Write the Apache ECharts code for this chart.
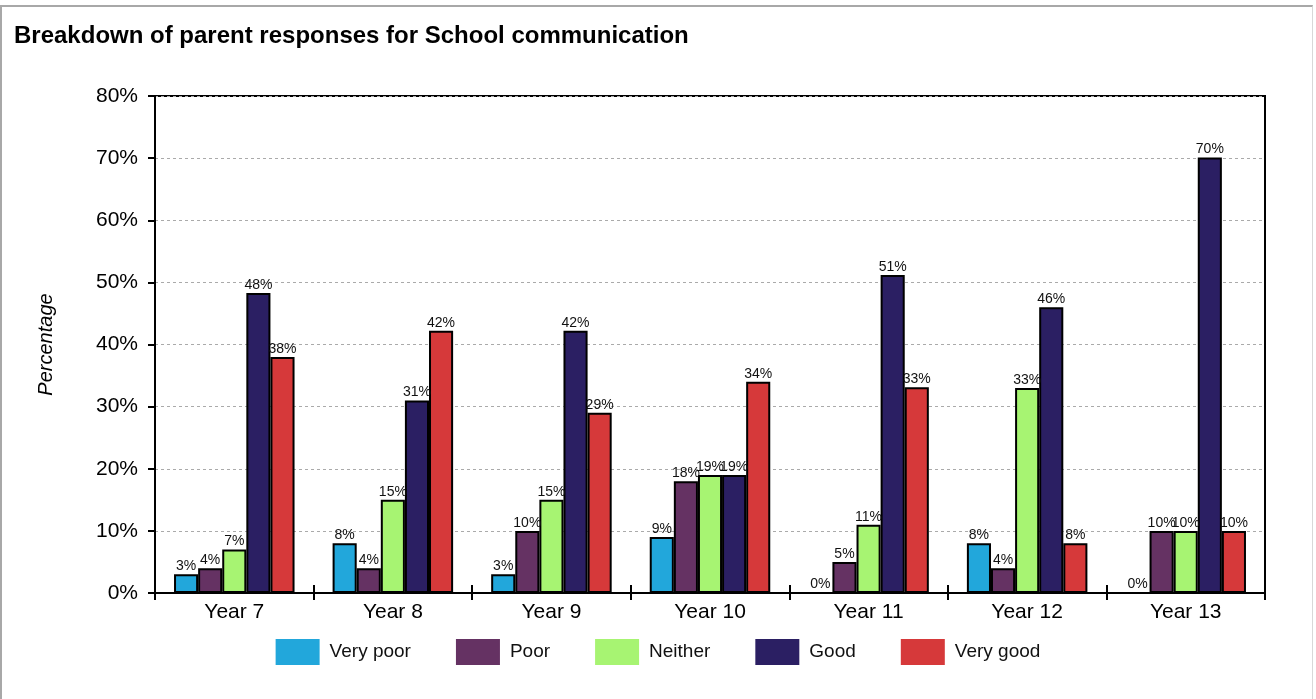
<!DOCTYPE html>
<html>
<head>
<meta charset="utf-8">
<script src="https://cdn.jsdelivr.net/npm/echarts@6/dist/echarts.min.js"></script>
<style>
  html, body { margin: 0; padding: 0; background: #fff; }
  #frame { position: absolute; left: 0; top: 5px; width: 1313px; height: 700px;
           border-top: 2px solid #a8a8a8; border-left: 2px solid #a8a8a8; border-right: 1px solid #d8d8d8; box-sizing: border-box; }
  #chart { position: absolute; left: 0; top: 0; width: 1316px; height: 699px; }
</style>
</head>
<body>
<div id="frame"></div>
<div id="chart"></div>
<script>
const categories = ['Year 7', 'Year 8', 'Year 9', 'Year 10', 'Year 11', 'Year 12', 'Year 13'];
const veryPoor = [3, 8, 3, 9, 0, 8, 0];
const poor = [4, 4, 10, 18, 5, 4, 10];
const neither = [7, 15, 15, 19, 11, 33, 10];
const good = [48.3, 31, 42.2, 19, 51.2, 46, 70.1];
const veryGood = [38, 42.2, 29, 34, 33.1, 8, 10];
const yTicks = [0, 10, 20, 30, 40, 50, 60, 70, 80];

const seriesNames = ['Very poor', 'Poor', 'Neither', 'Good', 'Very good'];
const seriesData = [veryPoor, poor, neither, good, veryGood];
const colors = ['#22A7DB', '#653263', '#A7F472', '#2B1F63', '#D6393A'];

const chart = echarts.init(document.getElementById('chart'));
const fontFamily = 'Liberation Sans, Arial, sans-serif';

const option = {
  animation: false,
  textStyle: { fontFamily },
  title: {
    text: 'Breakdown of parent responses for School communication',
    left: 9, top: 19,
    textStyle: { fontSize: 24, fontWeight: 'bold', color: '#000', fontFamily }
  },
  legend: {
    bottom: 29, left: 'center',
    itemWidth: 44, itemHeight: 26, itemGap: 45,
    icon: 'rect',
    itemStyle: { borderWidth: 0 },
    textStyle: { fontSize: 19, color: '#111', padding: [0, 0, 0, 5], fontFamily },
    data: seriesNames
  },
  grid: {
    left: 155, right: 51, top: 96, bottom: 106,
    show: true, borderColor: '#000', borderWidth: 2, backgroundColor: 'transparent'
  },
  xAxis: [{
    type: 'category', data: categories,
    axisLine: { lineStyle: { color: '#000', width: 2 } },
    axisTick: { show: true, length: 7, lineStyle: { color: '#000', width: 2 } },
    axisLabel: { fontSize: 21, color: '#000', margin: 9, fontFamily }
  }, {
    type: 'category', data: categories, position: 'bottom',
    axisLine: { show: false },
    axisTick: { show: true, inside: true, length: 8, lineStyle: { color: '#000', width: 2 } },
    axisLabel: { show: false }
  }],
  yAxis: {
    type: 'value', min: 0, max: 80, interval: 10,
    name: 'Percentage', nameLocation: 'middle', nameGap: 99, nameRotate: 90,
    nameTextStyle: { fontSize: 20, fontStyle: 'italic', color: '#000', fontFamily },
    axisLine: { show: true, lineStyle: { color: '#000', width: 2 } },
    axisTick: { show: true, length: 7, lineStyle: { color: '#000', width: 2 } },
    axisLabel: {
      fontSize: 21, color: '#000', margin: 17, fontFamily,
      formatter: v => (yTicks.includes(v) ? v + '%' : '')
    },
    splitLine: { show: true, lineStyle: { color: '#aaa', type: [3, 3], width: 1 } }
  },
  series: seriesNames.map((name, i) => ({
    name, type: 'bar', data: seriesData[i],
    barGap: '0%', barCategoryGap: '24%',
    itemStyle: { color: colors[i], borderColor: '#000', borderWidth: 2 },
    label: {
      show: true, position: 'top', distance: 1,
      fontSize: 14, color: '#111', fontFamily,
      formatter: p => Math.round(p.value) + '%'
    }
  }))
};
chart.setOption(option);
</script>
</body>
</html>
